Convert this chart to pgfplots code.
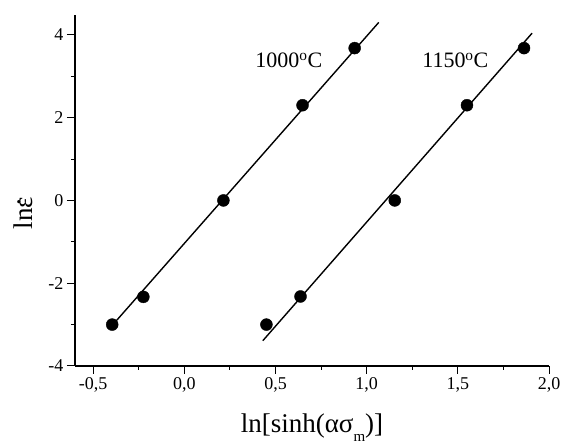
\documentclass[border=0pt]{standalone}
\usepackage{pgfplots}
\pgfplotsset{compat=1.18}
\usepackage{fontspec}
\setmainfont{Liberation Serif}
\begin{document}
\begin{tikzpicture}
\useasboundingbox (-75pt,-80pt) rectangle (490pt,366pt);
\begin{axis}[
  at={(0pt,0pt)}, anchor=south west,
  scale only axis, width=474pt, height=351pt,
  xmin=-0.6, xmax=2.0, ymin=-4, ymax=4.48,
  axis lines*=left,
  axis line style={line width=1.3pt},
  tick align=outside,
  major tick length=8pt, minor tick length=4pt,
  every tick/.style={black, line width=1pt},
  xtick={-0.5,0,0.5,1.0,1.5,2.0},
  ytick={-4,-2,0,2,4},
  minor x tick num=1, minor y tick num=1,
  /pgf/number format/assume math mode=true,
  xticklabel={\fontsize{18}{20}\selectfont\pgfmathprintnumber[use comma,fixed,fixed zerofill,precision=1]{\tick}},
  yticklabel={\fontsize{18}{20}\selectfont\pgfmathprintnumber[fixed,precision=0]{\tick}},
  clip=false,
  xlabel={ln[sinh(ασ\raisebox{-0.32em}{\fontsize{15}{16}\selectfont m})]},
  xlabel style={font=\fontsize{27}{30}\selectfont, at={(axis description cs:0.5,-0.19)}, anchor=base},
  ylabel={ln\ooalign{ε\cr\hidewidth\raisebox{0.42em}{.}\hidewidth\cr}},
  ylabel style={font=\fontsize{27}{30}\selectfont, at={(axis description cs:-0.0907,0.436)}, anchor=base, rotate=0},
]
\addplot[black, line width=1.4pt] coordinates {(-0.396,-3.02) (1.066,4.30)};
\addplot[black, line width=1.4pt] coordinates {(0.43,-3.39) (1.907,4.04)};
\addplot[only marks, mark=*, mark size=6pt, black] coordinates {
  (-0.396,-3.0) (-0.225,-2.33) (0.214,0) (0.648,2.30) (0.934,3.68)};
\addplot[only marks, mark=*, mark size=6pt, black] coordinates {
  (0.45,-3.0) (0.637,-2.32) (1.154,0) (1.55,2.30) (1.863,3.68)};
\node[anchor=base west, inner sep=0pt, font=\fontsize{22}{24}\selectfont] at (axis cs:0.388,3.20) {1000\textsuperscript{o}C};
\node[anchor=base west, inner sep=0pt, font=\fontsize{22}{24}\selectfont] at (axis cs:1.304,3.20) {1150\textsuperscript{o}C};
\end{axis}
\end{tikzpicture}
\end{document}
